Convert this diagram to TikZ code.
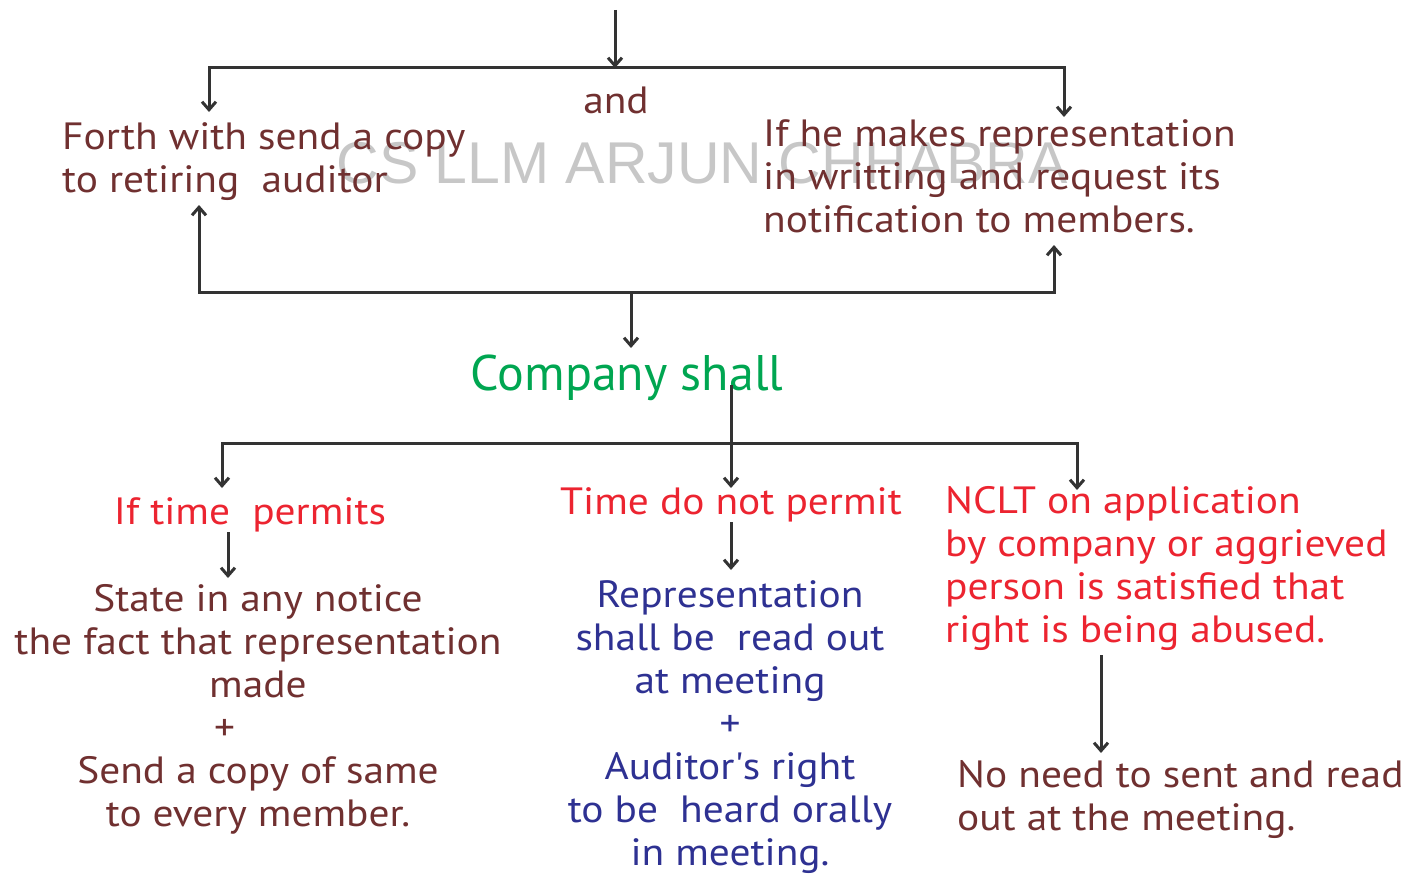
\documentclass[tikz,border=0pt]{standalone}
\usepackage{fontspec}
\setmainfont{PT Sans}[FakeStretch=1.09]
\newfontfamily\plainfont{PT Sans}
\newfontfamily\wmfont{Liberation Sans}
\usetikzlibrary{arrows.meta}
\definecolor{brn}{RGB}{112,48,48}
\definecolor{rd}{RGB}{236,36,48}
\definecolor{grn}{RGB}{0,166,81}
\definecolor{blu}{RGB}{46,49,146}
\definecolor{ln}{RGB}{51,51,51}
\tikzset{
  txt/.style={inner sep=0pt, font=\fontsize{38}{43}\selectfont},
  conn/.style={draw=ln, line width=3pt},
  tip/.style={conn, -{Straight Barb[length=8pt,width=14pt]}},
  tips/.style={conn, {Straight Barb[length=8pt,width=14pt]}-{Straight Barb[length=8pt,width=14pt]}}
}
\begin{document}
\begin{tikzpicture}[x=1pt,y=-1pt]
\useasboundingbox (0,0) rectangle (1419,875);
\node[inner sep=0pt, anchor=base, text=black!22, font=\wmfont\fontsize{59}{59}\selectfont] (wm) at (702,183) {CS LLM ARJUN CHHABRA};
% top
\node[txt, anchor=base, text=brn] (and) at (616,113) {and};
\node[txt, anchor=base west, align=left, text=brn] (forth) at (62,192) {Forth with send a copy\\to retiring\ \ auditor};
\node[txt, anchor=base west, align=left, text=brn] (ifhe) at (763,232) {If he makes representation\\in writting and request its\\notification to members.};
\coordinate (start) at (615,10);
\coordinate (jt) at (615,68);
\draw[tip] (start) -- (jt);
\draw[tips] (209,112) |- (1064,68) -- (1064,117);
\draw[tips] (199,205) |- (1054,292) -- (1054,245);
\coordinate (jb) at (631,292);
% company
\node[inner sep=0pt, anchor=base, text=grn, font=\plainfont\fontsize{50}{50}\selectfont] (company) at (627,390) {Company shall};
\draw[tip] (jb) -- (631,348);
\coordinate (jc) at (731,443);
\draw[tip] (731,385) -- (jc) -- (731,488);
\draw[tips] (222,488) |- (1077,443) -- (1077,490);
% columns
\node[txt, anchor=base, text=rd] (iftime) at (250,524) {If time\ \ permits};
\node[txt, anchor=base, align=center, text=brn] (state) at (258,826) {State in any notice\\the fact that representation\\made\\\makebox[88pt][l]{+}\\Send a copy of same\\to every member.};
\draw[tip] (228,532) -- (228,578);
\node[txt, anchor=base, text=rd] (timenot) at (731,514) {Time do not permit};
\node[txt, anchor=base, align=center, text=blu] (repr) at (730,865) {Representation\\shall be\ \ read out\\at meeting\\+\\Auditor\textquotesingle s right\\to be\ \ heard orally\\in meeting.};
\draw[tip] (731,522) -- (731,570);
\node[txt, anchor=base west, align=left, text=rd] (nclt) at (945,642) {NCLT on application\\by company or aggrieved\\person is satisfied that\\right is being abused.};
\node[txt, anchor=base west, align=left, text=brn] (noneed) at (957,830) {No need to sent and read\\out at the meeting.};
\draw[tip] (1101,655) -- (1101,753);
\end{tikzpicture}
\end{document}
